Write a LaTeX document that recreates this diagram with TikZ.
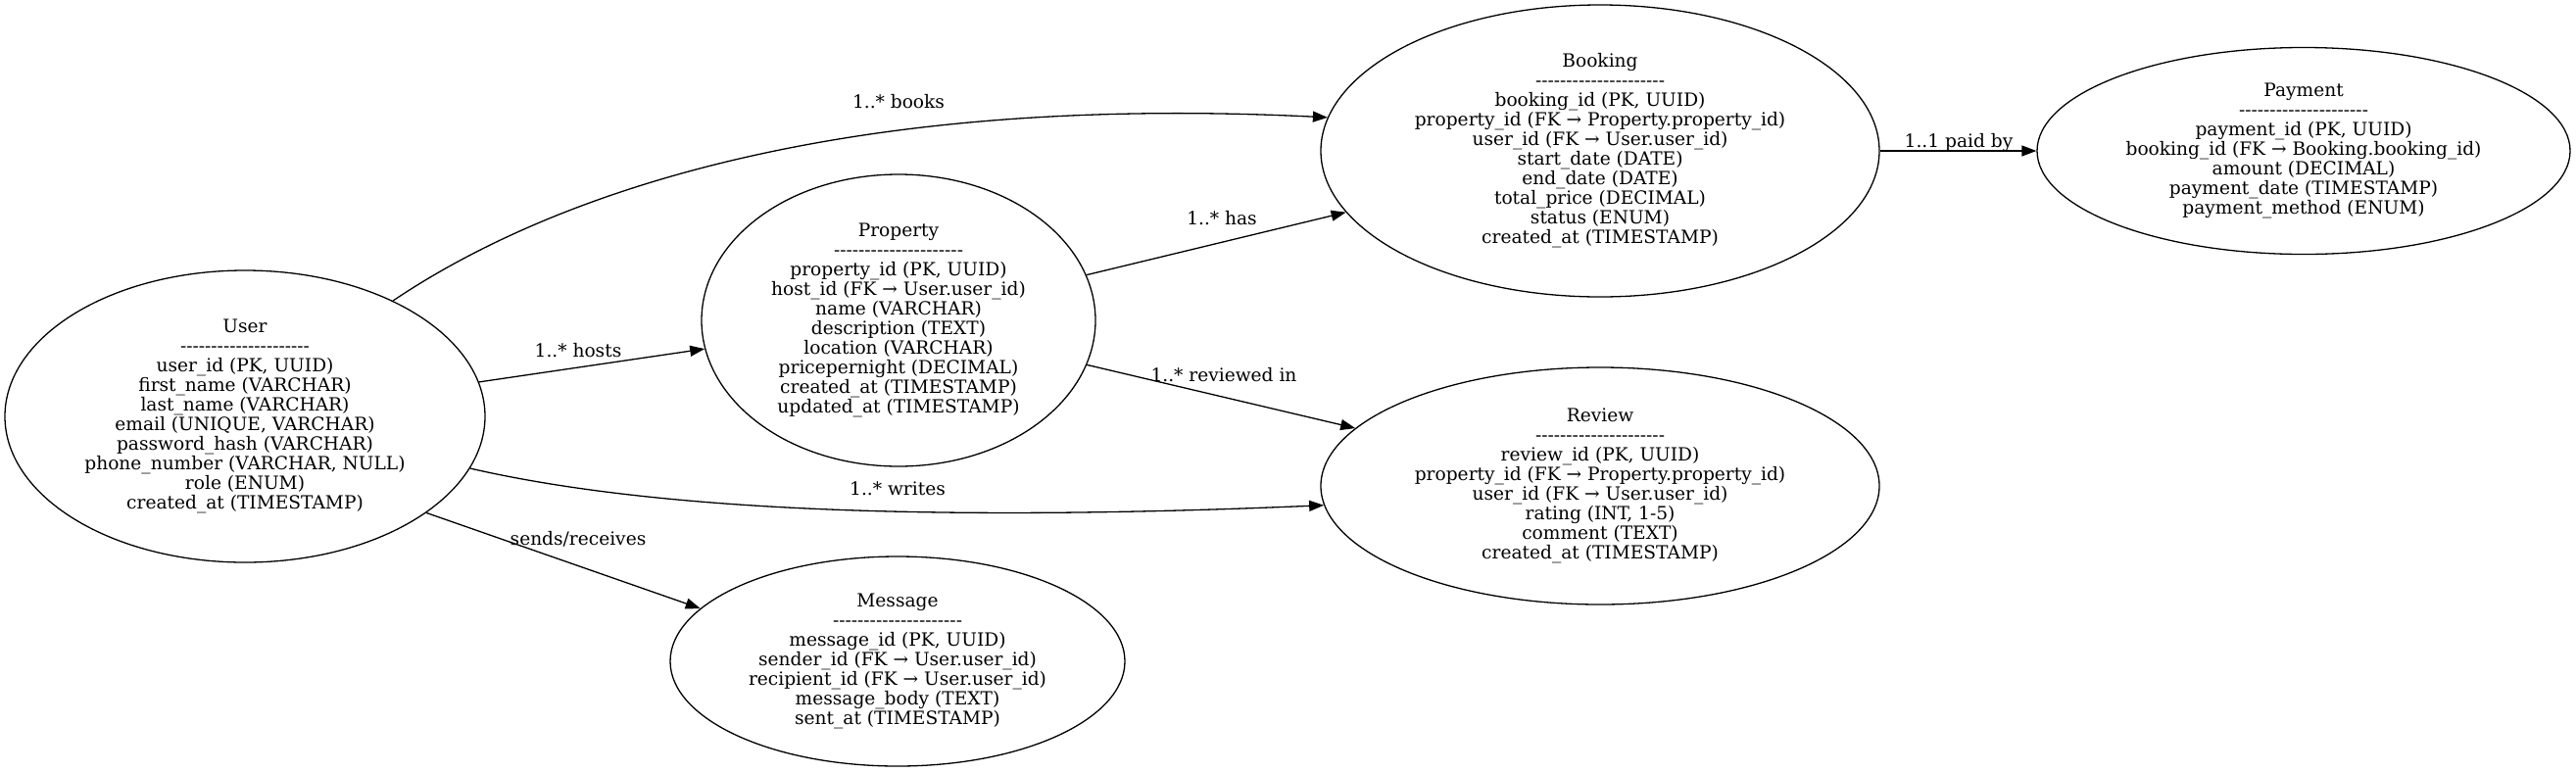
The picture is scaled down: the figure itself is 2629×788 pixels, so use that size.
\documentclass[tikz,border=0pt]{standalone}
\usepackage{fontspec}
\setmainfont{DejaVu Serif}
\usepackage{tikz}
\usetikzlibrary{arrows.meta, shapes.geometric, positioning}

\newcommand\sepline{\foreach \k in {1,...,21}{-\kern0pt}}

\begin{document}
\begin{tikzpicture}[x=1pt, y=-1pt,
    entity/.style={draw, ellipse, line width=1.3pt, inner sep=0pt, align=center,
      font=\fontsize{18.6}{20}\selectfont},
    rel/.style={line width=1.3pt, -{Triangle[length=15pt, width=11pt]}},
    lbl/.style={anchor=base, font=\fontsize{18.6}{20}\selectfont}]
  \useasboundingbox (0,0) rectangle (2629,788);

  \node[entity, minimum width=490pt, minimum height=298pt] (user) at (250,425)
      {User\\\sepline\\user\_id (PK, UUID)\\first\_name (VARCHAR)\\last\_name (VARCHAR)\\
       email (UNIQUE, VARCHAR)\\password\_hash (VARCHAR)\\phone\_number (VARCHAR, NULL)\\
       role (ENUM)\\created\_at (TIMESTAMP)};
  \node[entity, minimum width=402pt, minimum height=298pt] (property) at (917,327)
      {Property\\\sepline\\property\_id (PK, UUID)\\host\_id (FK → User.user\_id)\\
       name (VARCHAR)\\description (TEXT)\\location (VARCHAR)\\pricepernight (DECIMAL)\\
       created\_at (TIMESTAMP)\\updated\_at (TIMESTAMP)};
  \node[entity, minimum width=570pt, minimum height=298pt] (booking) at (1633,154)
      {Booking\\\sepline\\booking\_id (PK, UUID)\\property\_id (FK → Property.property\_id)\\
       user\_id (FK → User.user\_id)\\start\_date (DATE)\\end\_date (DATE)\\
       total\_price (DECIMAL)\\status (ENUM)\\created\_at (TIMESTAMP)};
  \node[entity, minimum width=544pt, minimum height=211pt] (payment) at (2351,154)
      {Payment\\\sepline\\payment\_id (PK, UUID)\\booking\_id (FK → Booking.booking\_id)\\
       amount (DECIMAL)\\payment\_date (TIMESTAMP)\\payment\_method (ENUM)};
  \node[entity, minimum width=570pt, minimum height=242pt] (review) at (1633,496)
      {Review\\\sepline\\review\_id (PK, UUID)\\property\_id (FK → Property.property\_id)\\
       user\_id (FK → User.user\_id)\\rating (INT, 1-5)\\comment (TEXT)\\created\_at (TIMESTAMP)};
  \node[entity, minimum width=464pt, minimum height=214pt] (message) at (916,675)
      {Message\\\sepline\\message\_id (PK, UUID)\\sender\_id (FK → User.user\_id)\\
       recipient\_id (FK → User.user\_id)\\message\_body (TEXT)\\sent\_at (TIMESTAMP)};

  \draw[rel] (user.38) .. controls (560,200) and (850,95) .. (booking.173);
  \draw[rel] (user) -- (property);
  \draw[rel] (property) -- (booking);
  \draw[rel] (property) -- (review);
  \draw[rel] (user.347) .. controls (640,515) and (900,535) .. (review.184);
  \draw[rel] (user.332) -- (message.165);
  \draw[rel] (booking) -- (payment);

  \node[lbl] (lbooks) at (917,110) {1..* books};
  \node[lbl] (lhas) at (1247,229) {1..* has};
  \node[lbl] (lhosts) at (590,364) {1..* hosts};
  \node[lbl] (lreviewed) at (1249,389) {1..* reviewed in};
  \node[lbl] (lwrites) at (916,505) {1..* writes};
  \node[lbl] (lsends) at (590,556) {sends/receives};
  \node[lbl] (lpaid) at (1999,150) {1..1 paid by};
\end{tikzpicture}
\end{document}
